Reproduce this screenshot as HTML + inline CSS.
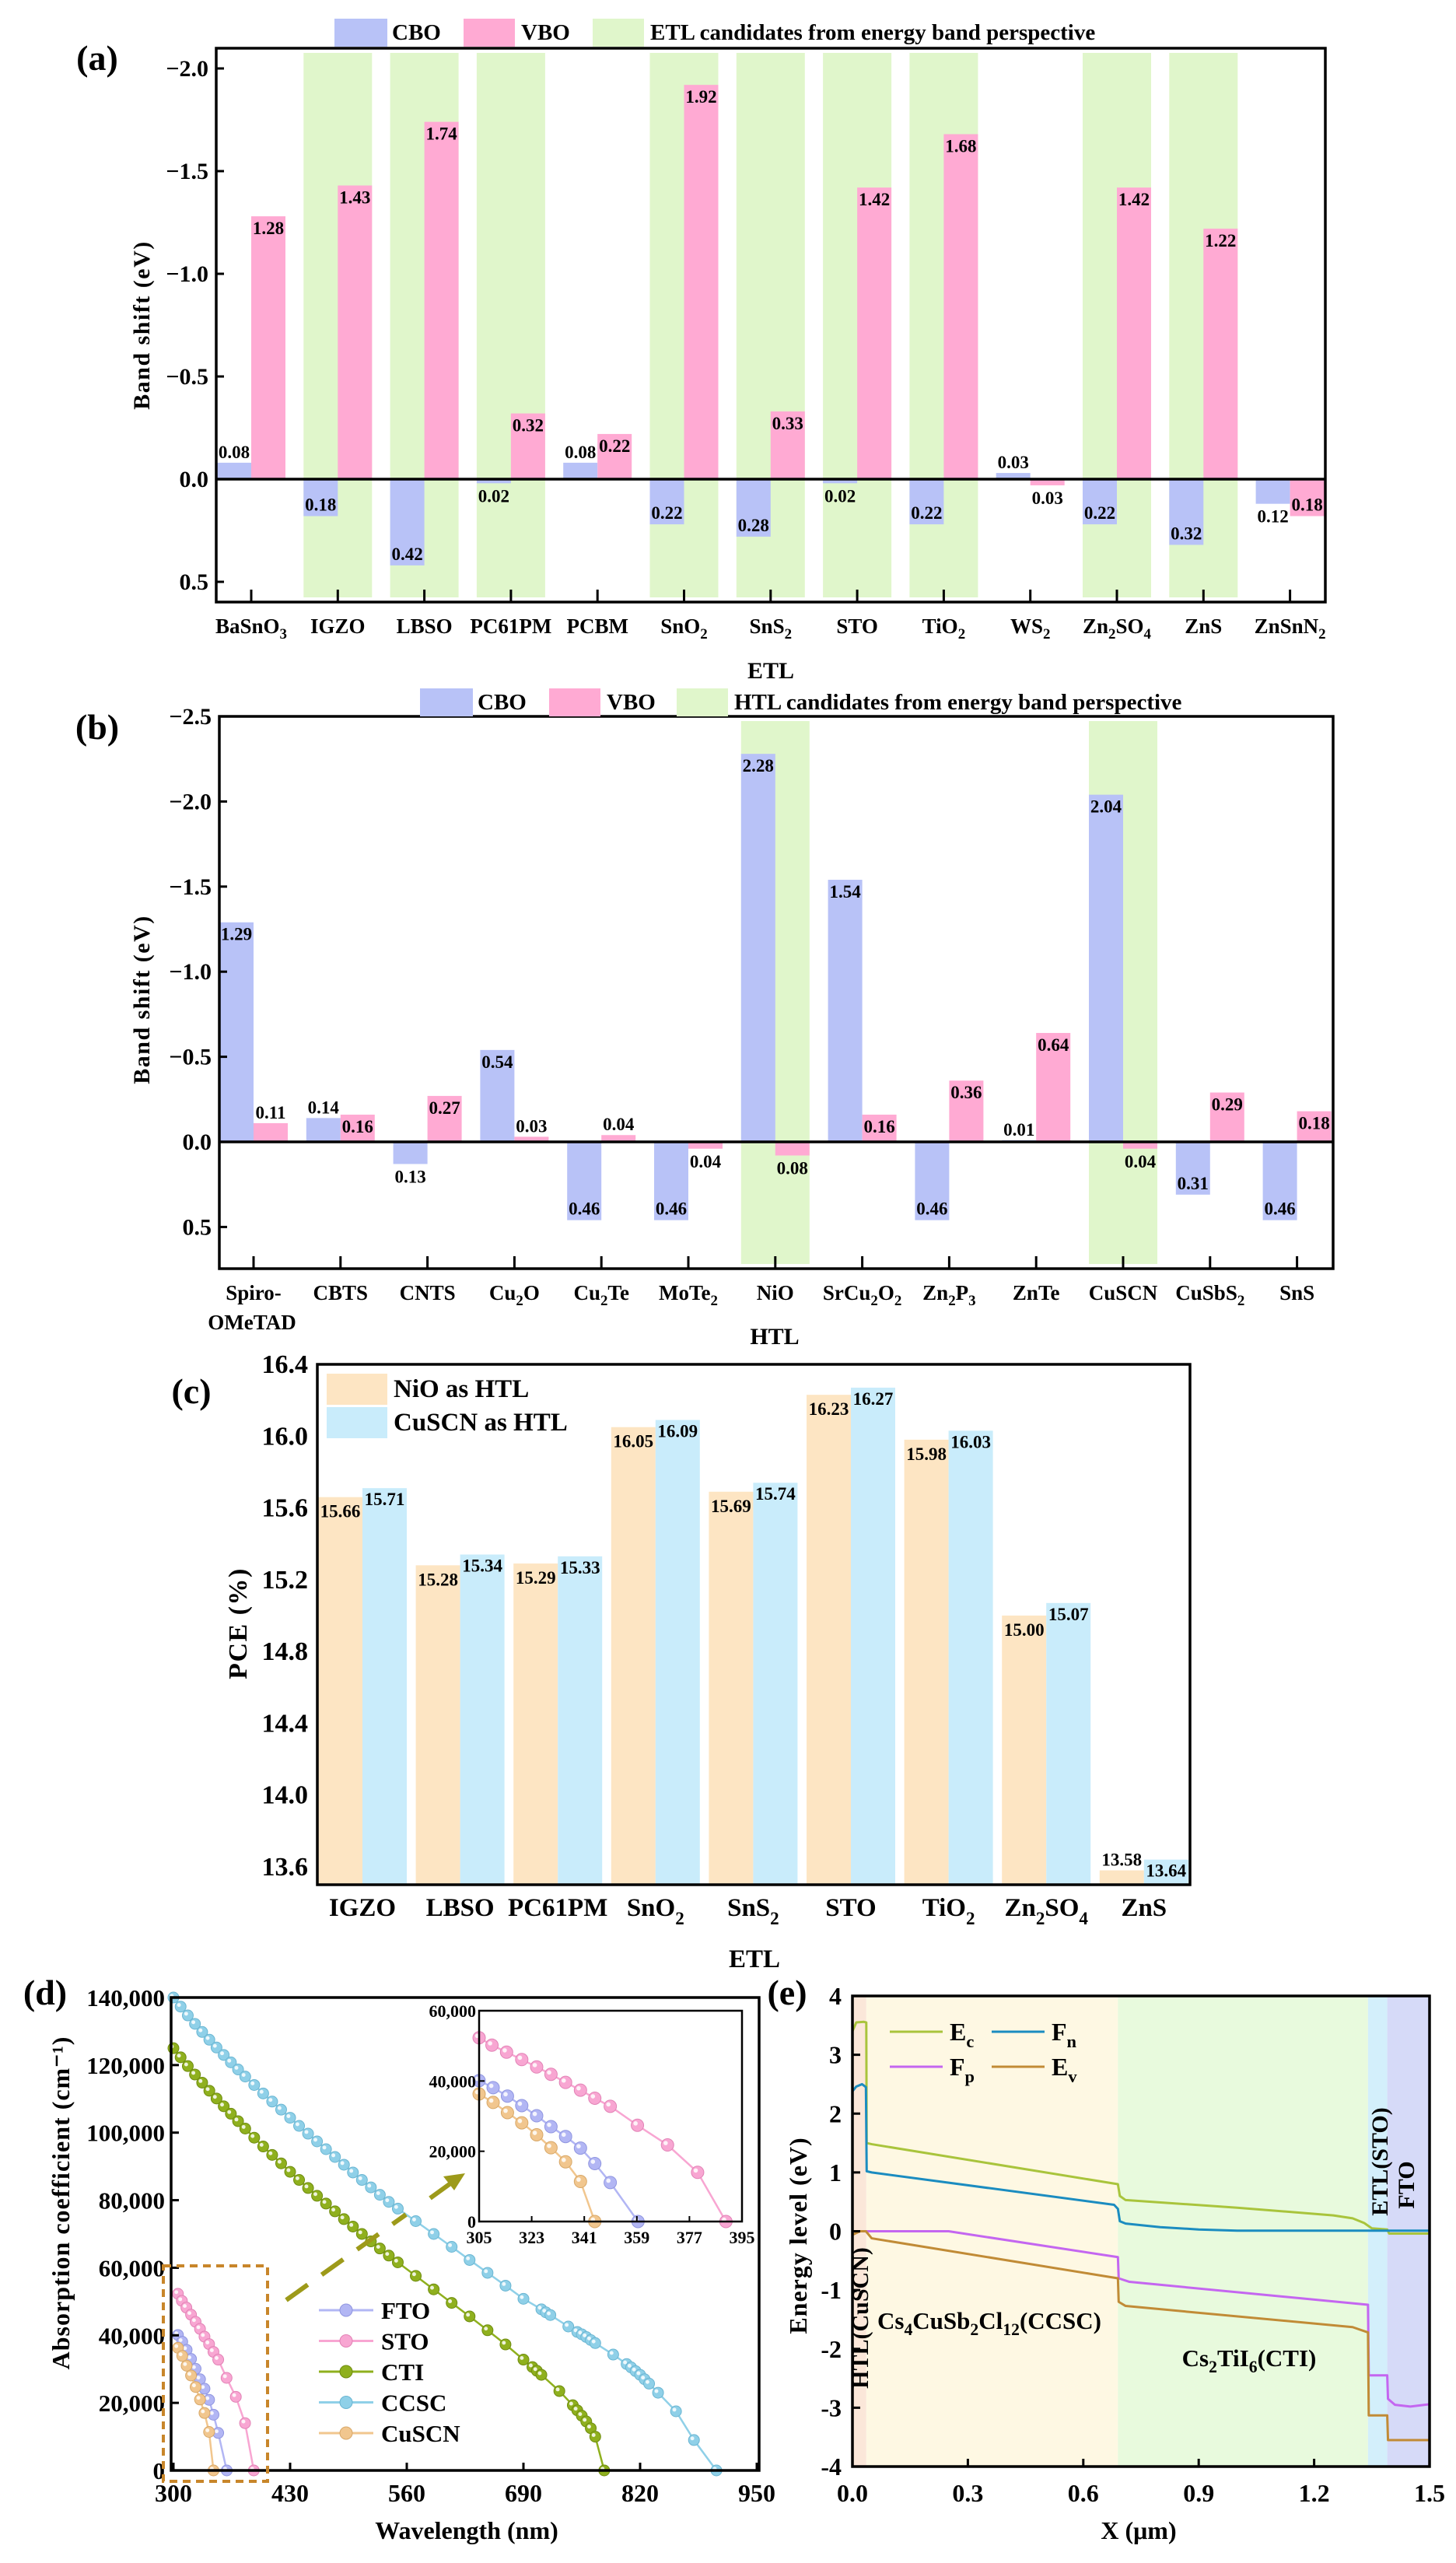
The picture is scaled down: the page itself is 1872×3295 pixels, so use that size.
<!DOCTYPE html>
<html><head><meta charset="utf-8">
<style>
html,body{margin:0;padding:0;background:#fff;}
svg{display:block;font-family:"Liberation Serif",serif;font-weight:bold;}
</style></head>
<body>
<svg id="fig" width="1872" height="3295" viewBox="0 0 1872 3295" xmlns="http://www.w3.org/2000/svg">
<rect width="1872" height="3295" fill="#fff"/>
</svg>
<script>
// ---------- Panel (a) data ----------
const aCats = ['BaSnO_3','IGZO','LBSO','PC61PM','PCBM','SnO_2','SnS_2','STO','TiO_2','WS_2','Zn_2SO_4','ZnS','ZnSnN_2'];
const aCBO = [-0.08,0.18,0.42,0.02,-0.08,0.22,0.28,0.02,0.22,-0.03,0.22,0.32,0.12];
const aVBO = [-1.28,-1.43,-1.74,-0.32,-0.22,-1.92,-0.33,-1.42,-1.68,0.03,-1.42,-1.22,0.18];
const aCand = [0,1,1,1,0,1,1,1,1,0,1,1,0];
const aTicks = [-2.0,-1.5,-1.0,-0.5,0.0,0.5];
// ---------- Panel (b) data ----------
const bCats = ['Spiro-|OMeTAD','CBTS','CNTS','Cu_2O','Cu_2Te','MoTe_2','NiO','SrCu_2O_2','Zn_2P_3','ZnTe','CuSCN','CuSbS_2','SnS'];
const bCBO = [-1.29,-0.14,0.13,-0.54,0.46,0.46,-2.28,-1.54,0.46,-0.01,-2.04,0.31,0.46];
const bVBO = [-0.11,-0.16,-0.27,-0.03,-0.04,0.04,0.08,-0.16,-0.36,-0.64,0.04,-0.29,-0.18];
const bCand = [0,0,0,0,0,0,1,0,0,0,1,0,0];
const bTicks = [-2.5,-2.0,-1.5,-1.0,-0.5,0.0,0.5];
// ---------- Panel (c) data ----------
const cCats = ['IGZO','LBSO','PC61PM','SnO_2','SnS_2','STO','TiO_2','Zn_2SO_4','ZnS'];
const cNiO = [15.66,15.28,15.29,16.05,15.69,16.23,15.98,15.00,13.58];
const cCuSCN = [15.71,15.34,15.33,16.09,15.74,16.27,16.03,15.07,13.64];
const cTicks = [13.6,14.0,14.4,14.8,15.2,15.6,16.0,16.4];
// ---------- Panel (d) data ----------
const ccscX = [300,308,316,324,332,340,348,356,364,372,380,390,400,410,420,430,440,450,460,470,480,490,500,510,520,530,540,550,570,590,610,630,650,670,690,710,715,720,740,750,755,760,765,770,790,805,810,815,820,825,830,840,860,880,905];
const ccscY = [140000,137300,134700,132200,129800,127500,125200,123000,120800,118700,116600,114100,111600,109200,106800,104400,102000,99700,97400,95100,92800,90500,88200,86000,83800,81600,79500,77500,73800,70000,66200,62300,58500,54700,50800,47700,46800,46000,42600,41000,40300,39500,38600,37700,34300,31500,30500,29400,28300,27000,25700,23000,17500,9000,0];
const ctiX = [300,308,316,324,332,340,348,356,364,372,380,390,400,410,420,430,440,450,460,470,480,490,500,510,520,530,540,550,570,590,610,630,650,670,690,700,705,710,730,745,750,755,760,765,770,780];
const ctiY = [125000,122300,119700,117200,114800,112400,110100,107800,105600,103400,101200,98500,95900,93400,90900,88400,86000,83600,81300,79000,76700,74400,72200,70000,67800,65700,63600,61600,57600,53600,49600,45600,41500,37300,32800,30600,29500,28300,23500,19300,17800,16200,14500,12500,10000,0];
const stoX = [305,309.4,314.4,319.6,324.7,329.6,334.6,339.7,344.6,349.9,359.2,369.5,379.8,389.5];
const stoY = [52300,50200,48200,46100,44000,41900,39600,37400,35100,32800,27400,21800,14000,0];
const ftoX = [305,309.8,314.7,319.6,324.7,329.6,334.6,339.7,344.6,349.9,359.4];
const ftoY = [40100,38100,35700,33000,30100,27000,24200,20900,16500,11100,0];
const cuscnX = [305,309.8,314.7,319.6,324.7,329.6,334.6,339.7,344.6];
const cuscnY = [36300,33900,31000,28100,24700,21000,17000,11400,0];
const dXTicks = [300,430,560,690,820,950];
const dYTicks = [0,20000,40000,60000,80000,100000,120000,140000];
const insetXTicks = [305,323,341,359,377,395];
const insetYTicks = [0,20000,40000,60000];
// ---------- Panel (e) data ----------
const ecX = [0,0.01,0.03,0.036,0.037,0.05,0.69,0.695,0.71,1.0,1.25,1.30,1.33,1.35,1.39,1.395,1.5];
const ecY = [3.4,3.55,3.56,3.55,1.5,1.48,0.8,0.6,0.53,0.4,0.27,0.22,0.14,0.05,0.03,-0.04,-0.04];
const fnX = [0,0.01,0.025,0.035,0.037,0.05,0.68,0.69,0.695,0.71,0.8,0.9,1.0,1.5];
const fnY = [2.38,2.46,2.5,2.45,1.02,1.0,0.45,0.38,0.17,0.13,0.07,0.03,0.01,0.01];
const fpX = [0,0.25,0.69,0.692,0.72,1.34,1.342,1.39,1.392,1.41,1.45,1.5];
const fpY = [0,0,-0.44,-0.8,-0.86,-1.25,-2.45,-2.45,-2.85,-2.95,-2.98,-2.94];
const evX = [0,0.02,0.035,0.05,0.69,0.692,0.71,1.3,1.34,1.342,1.39,1.392,1.5];
const evY = [-0.06,0,0,-0.12,-0.8,-1.2,-1.27,-1.63,-1.72,-3.13,-3.13,-3.55,-3.55];
const eRegionsX0 = [0,0.036,0.69,1.34,1.39];
const eRegionsX1 = [0.036,0.69,1.34,1.39,1.5];
const eXTicks = [0.0,0.3,0.6,0.9,1.2,1.5];
const eYTicks = [-4,-3,-2,-1,0,1,2,3,4];

const NS='http://www.w3.org/2000/svg';
const svg=document.getElementById('fig');
function mk(tag,attrs,parent){const e=document.createElementNS(NS,tag);for(const k in attrs)e.setAttribute(k,attrs[k]);(parent||svg).appendChild(e);return e;}
function rich(t,str){
  const parts=str.split(/(_\d+)/);
  parts.forEach(p=>{if(!p)return;const s=document.createElementNS(NS,'tspan');
    if(p[0]==='_'){s.textContent=p.slice(1);s.setAttribute('baseline-shift','sub');s.setAttribute('font-size','70%');}
    else s.textContent=p;t.appendChild(s);});
}
function txt(x,y,str,size,anchor,name,extra){
  const t=mk('text',Object.assign({x:x,y:y,'font-size':size,'text-anchor':anchor||'middle','dominant-baseline':'central',fill:'#000'},extra||{}));
  rich(t,str);
  
  
  return t;
}
function fmt(v){return Math.abs(v).toFixed(2);}

// ===== Generic band shift panel =====
function bandPanel(p){
  const y=v=>p.zeroY+v*p.unit;
  const g=mk('g',{});
  
  
  const cx=i=>p.x0+i*p.step;
  p.cand.forEach((c,i)=>{if(!c)return;
    const r=mk('rect',{x:cx(i)-44,y:p.top+6,width:88,height:p.bottom-p.top-12,fill:'#e0f6cb'},g);
    
    
  });
  const bar=(v,x0,col,kind,i)=>{
    const y0=y(0),y1=y(v);
    const r=mk('rect',{x:x0,y:Math.min(y0,y1),width:44,height:Math.abs(y1-y0),fill:col},g);
    
    
    const len=Math.abs(y1-y0),up=v<0;
    let ly;
    if(len>34) ly=up?y1+15:y1-15; else ly=up?y1-14:y1+16;
    txt(x0+22,ly,fmt(v),23,'middle',kind+'-value-'+i);
  };
  p.cbo.forEach((v,i)=>bar(v,cx(i)-44,'#b8c2f7','cbo',i));
  p.vbo.forEach((v,i)=>bar(v,cx(i),'#ffaad3','vbo',i));
  const f=mk('rect',{x:p.left,y:p.top,width:p.right-p.left,height:p.bottom-p.top,fill:'none',stroke:'#000','stroke-width':3.5},g);
  
  
  const z=mk('line',{x1:p.left,x2:p.right,y1:y(0),y2:y(0),stroke:'#000','stroke-width':3.5},g);
  
  
  p.ticks.forEach(t=>{
    const l=mk('line',{x1:p.left,x2:p.left+10,y1:y(t),y2:y(t),stroke:'#000','stroke-width':3},g);
    
    
    txt(p.left-10,y(t),(t<0?'\u2212':'')+Math.abs(t).toFixed(1),30,'end','y-tick-label');
  });
  p.cats.forEach((c,i)=>{
    const l=mk('line',{x1:cx(i),x2:cx(i),y1:p.bottom,y2:p.bottom-16,stroke:'#000','stroke-width':3},g);
    
    
    const lines=c.split('|');
    lines.forEach((s,k)=>txt(cx(i)+(k?-2:0),p.labY+k*38,s,27,'middle','x-tick-label'));
  });
  txt(p.xTitleX,p.xTitleY,p.xTitle,30,'middle',p.id+'-x-axis-title');
  txt(0,0,'Band shift (eV)',30,'middle',p.id+'-y-axis-title',{transform:`translate(182,${p.yTitleY}) rotate(-90)`,'letter-spacing':'1.5'});
  txt(125,p.tagY,p.tag,46,'middle',p.id+'-panel-label');
  const L=p.leg;
  const sw=(x,w,col,name)=>{const r=mk('rect',{x:x,y:L.y-18,width:w,height:36,fill:col},g);
    
    };
  sw(L.x[0],68,'#b8c2f7','legend-cbo-swatch');txt(L.x[0]+74,L.y,'CBO',29,'start','legend-cbo-label');
  sw(L.x[1],66,'#ffaad3','legend-vbo-swatch');txt(L.x[1]+74,L.y,'VBO',29,'start','legend-vbo-label');
  sw(L.x[2],66,'#e0f6cb','legend-candidate-swatch');txt(L.x[2]+74,L.y,p.candText,29,'start','legend-candidate-label');
}
bandPanel({id:'a',cats:aCats,cbo:aCBO,vbo:aVBO,cand:aCand,ticks:aTicks,zeroY:616,unit:264,left:278,right:1704,top:62,bottom:774,x0:323,step:111.3,labY:805,xTitle:'ETL',xTitleX:991,xTitleY:862,yTitleY:418,tag:'(a)',tagY:74,leg:{y:42,x:[430,596,762]},candText:'ETL candidates from energy band perspective'});
bandPanel({id:'b',cats:bCats,cbo:bCBO,vbo:bVBO,cand:bCand,ticks:bTicks,zeroY:1468,unit:218.8,left:282,right:1714,top:921,bottom:1631,x0:326,step:111.8,labY:1662,xTitle:'HTL',xTitleX:996,xTitleY:1718,yTitleY:1285,tag:'(b)',tagY:934,leg:{y:903,x:[540,706,870]},candText:'HTL candidates from energy band perspective'});

// ===== Panel (c) =====
(function(){
  const L=408,R=1530,T=1754,B=2423;
  const y=v=>B-(v-13.5)*230.7;
  const cx=i=>466+i*125.6;
  cNiO.forEach((v,i)=>{
    const r=mk('rect',{x:cx(i)-57,y:y(v),width:57,height:B-y(v),fill:'#fde5c3'});
    
    
    const h=B-y(v);
    txt(cx(i)-28.5,h<30?y(v)-14:y(v)+18,v.toFixed(2),23,'middle','nio-value-'+i);
  });
  cCuSCN.forEach((v,i)=>{
    const r=mk('rect',{x:cx(i),y:y(v),width:57,height:B-y(v),fill:'#c9ecfb'});
    
    
    const h=B-y(v);
    txt(cx(i)+28.5,h<30?y(v)-14:y(v)+14,v.toFixed(2),23,'middle','cuscn-value-'+i);
  });
  const f=mk('rect',{x:L,y:T,width:R-L,height:B-T,fill:'none',stroke:'#000','stroke-width':3.5});
  
  
  cTicks.forEach(t=>txt(L-12,y(t),t.toFixed(1),34,'end','y-tick-label'));
  cCats.forEach((c,i)=>txt(cx(i),2453,c,33,'middle','x-tick-label'));
  txt(970,2519,'ETL',33,'middle','c-x-axis-title');
  txt(0,0,'PCE (%)',34,'middle','c-y-axis-title',{transform:'translate(306,2087) rotate(-90)','letter-spacing':'1.5'});
  txt(246,1788,'(c)',46,'middle','c-panel-label');
  let r=mk('rect',{x:420,y:1766,width:78,height:40,fill:'#fde5c3'});
  
  
  r=mk('rect',{x:420,y:1809,width:78,height:40,fill:'#c9ecfb'});
  
  
  txt(506,1786,'NiO as HTL',33,'start','legend-nio-label');
  txt(506,1829,'CuSCN as HTL',33,'start','legend-cuscn-label');
})();

// ===== Panel (d) =====
(function(){
  const L=220,R=976,T=2568,B=3176;
  const xs=v=>223+(v-300)/650*750;
  const ys=v=>B-v/140000*608;
  const IL=616,IR=954,IT=2585,IB=2856;
  const ix=v=>IL+(v-305)/90*(IR-IL);
  const iy=v=>IB-v/60000*(IB-IT);
  function series(X,Y,col,dark,name,fx,fy,r,parent){
    const pts=X.map((x,i)=>fx(x)+','+fy(Y[i])).join(' ');
    const pl=mk('polyline',{points:pts,fill:'none',stroke:col,'stroke-width':2.5},parent);
    
    
    X.forEach((x,i)=>{
      const c=mk('circle',{cx:fx(x),cy:fy(Y[i]),r:r,fill:col,stroke:dark,'stroke-width':1},parent);
      
      
      const h=mk('circle',{cx:fx(x)-r*0.3,cy:fy(Y[i])-r*0.3,r:r*0.35,fill:'#fff','fill-opacity':0.85},parent);
      
      
    });
  }
  const gm=mk('g',{});
  
  
  series(ccscX,ccscY,'#8fd0e8','#6bb6d2','ccsc',xs,ys,7,gm);
  series(ctiX,ctiY,'#8fb01e','#6f8c10','cti',xs,ys,7,gm);
  series(stoX,stoY,'#f8a6d2','#e283b6','sto',xs,ys,7,gm);
  series(ftoX,ftoY,'#b2b6f4','#9096e0','fto',xs,ys,7,gm);
  series(cuscnX,cuscnY,'#f1c68e','#d8a868','cuscn',xs,ys,7,gm);
  const f=mk('rect',{x:L,y:T,width:R-L,height:B-T,fill:'none',stroke:'#000','stroke-width':3.5});
  
  
  dXTicks.forEach(t=>{
    const l=mk('line',{x1:xs(t),x2:xs(t),y1:B,y2:B-10,stroke:'#000','stroke-width':3});
    
    
    txt(xs(t),3205,String(t),32,'middle','x-tick-label');
  });
  dYTicks.forEach(t=>{
    const l=mk('line',{x1:L,x2:L+10,y1:ys(t),y2:ys(t),stroke:'#000','stroke-width':3});
    
    
    txt(L-8,ys(t),t.toLocaleString('en-US'),31,'end','y-tick-label');
  });
  txt(600,3253,'Wavelength (nm)',32,'middle','d-x-axis-title');
  txt(0,0,'Absorption coefficient (cm\u207B\u00B9)',32,'middle','d-y-axis-title',{transform:'translate(78,2832) rotate(-90)','letter-spacing':'1'});
  txt(58,2561,'(d)',46,'middle','d-panel-label');
  let e=mk('rect',{x:210,y:2913,width:134,height:277,fill:'none',stroke:'#c8862a','stroke-width':4,'stroke-dasharray':'10,7'});
  
  
  e=mk('line',{x1:368,y1:2957,x2:522,y2:2847,stroke:'#9d9a1a','stroke-width':6,'stroke-dasharray':'34,22'});
  
  
  e=mk('line',{x1:553,y1:2826,x2:582,y2:2805,stroke:'#9d9a1a','stroke-width':6});
  
  
  e=mk('polygon',{points:'598,2794 570,2798 584,2816',fill:'#9d9a1a'});
  
  
  const gi=mk('g',{});
  
  
  series(stoX,stoY,'#f8a6d2','#e283b6','inset-sto',ix,iy,8,gi);
  series(ftoX,ftoY,'#b2b6f4','#9096e0','inset-fto',ix,iy,8,gi);
  series(cuscnX,cuscnY,'#f1c68e','#d8a868','inset-cuscn',ix,iy,8,gi);
  e=mk('rect',{x:IL,y:IT,width:IR-IL,height:IB-IT,fill:'none',stroke:'#000','stroke-width':2.5});
  
  
  insetXTicks.forEach(t=>{
    const l=mk('line',{x1:ix(t),x2:ix(t),y1:IB,y2:IB-7,stroke:'#000','stroke-width':2});
    
    
    txt(ix(t),2876,String(t),22,'middle','inset-x-tick-label');
  });
  insetYTicks.forEach(t=>{
    const l=mk('line',{x1:IL,x2:IL+7,y1:iy(t),y2:iy(t),stroke:'#000','stroke-width':2});
    
    
    txt(IL-4,iy(t),t.toLocaleString('en-US'),22,'end','inset-y-tick-label');
  });
  const leg=[['FTO','#b2b6f4','#9096e0'],['STO','#f8a6d2','#e283b6'],['CTI','#8fb01e','#6f8c10'],['CCSC','#8fd0e8','#6bb6d2'],['CuSCN','#f1c68e','#d8a868']];
  leg.forEach((l,i)=>{
    const yy=2970+i*39.5;
    const ln=mk('line',{x1:410,x2:480,y1:yy,y2:yy,stroke:l[1],'stroke-width':3});
    
    
    const c=mk('circle',{cx:445,cy:yy,r:8,fill:l[1],stroke:l[2],'stroke-width':1});
    
    
    txt(490,yy,l[0],31,'start','legend-'+l[0].toLowerCase()+'-label');
  });
})();

// ===== Panel (e) =====
(function(){
  const L=1096,R=1838,T=2566,B=3171;
  const xs=v=>L+v/1.5*(R-L);
  const ys=v=>T+(4-v)/8*(B-T);
  const fills=['#fbe7d9','#fef8e3','#e8fadd','#d3effb','#d6daf8'];
  eRegionsX0.forEach((x0,i)=>{
    const r=mk('rect',{x:xs(x0),y:T,width:xs(eRegionsX1[i])-xs(x0),height:B-T,fill:fills[i]});
    
    
  });
  const line=(X,Y,col,name)=>{
    const p=mk('polyline',{points:X.map((x,i)=>xs(x)+','+ys(Y[i])).join(' '),fill:'none',stroke:col,'stroke-width':3,'stroke-linejoin':'round'});
    
    
  };
  line(ecX,ecY,'#a9c43c','ec-line');
  line(fnX,fnY,'#1b8cc0','fn-line');
  line(fpX,fpY,'#c466f0','fp-line');
  line(evX,evY,'#c18b36','ev-line');
  const f=mk('rect',{x:L,y:T,width:R-L,height:B-T,fill:'none',stroke:'#000','stroke-width':3.5});
  
  
  eXTicks.forEach(t=>{
    const l=mk('line',{x1:xs(t),x2:xs(t),y1:B,y2:B-10,stroke:'#000','stroke-width':3});
    
    
    txt(xs(t),3205,t.toFixed(1),32,'middle','x-tick-label');
  });
  eYTicks.forEach(t=>{
    const l=mk('line',{x1:L,x2:L+10,y1:ys(t),y2:ys(t),stroke:'#000','stroke-width':3});
    
    
    txt(L-14,ys(t),(t<0?'-':'')+Math.abs(t),32,'end','y-tick-label');
  });
  txt(1464,3253,'X (\u03BCm)',32,'middle','e-x-axis-title');
  txt(0,0,'Energy level (eV)',32,'middle','e-y-axis-title',{transform:'translate(1026,2874) rotate(-90)','letter-spacing':'1'});
  txt(1012,2561,'(e)',46,'middle','e-panel-label');
  txt(0,0,'HTL(CuSCN)',30,'middle','htl-region-label',{transform:'translate(1106,2980) rotate(-90)'});
  txt(0,0,'ETL(STO)',30,'middle','etl-region-label',{transform:'translate(1774,2779) rotate(-90)'});
  txt(0,0,'FTO',30,'middle','fto-region-label',{transform:'translate(1808,2809) rotate(-90)'});
  txt(1272,2983,'Cs_4CuSb_2Cl_12(CCSC)',31,'middle','ccsc-region-label');
  txt(1606,3031,'Cs_2TiI_6(CTI)',31,'middle','cti-region-label');
  const leg=[['E','c','#a9c43c',1144,2612],['F','n','#1b8cc0',1275,2612],['F','p','#c466f0',1144,2657],['E','v','#c18b36',1275,2657]];
  leg.forEach(l=>{
    const ln=mk('line',{x1:l[3],x2:l[3]+68,y1:l[4],y2:l[4],stroke:l[2],'stroke-width':3});
    
    
    txt(l[3]+77,l[4],l[0]+'_'+'0',32,'start','legend-'+l[0].toLowerCase()+l[1]+'-label').lastChild.textContent=l[1];
  });
})();
</script>
</body></html>
